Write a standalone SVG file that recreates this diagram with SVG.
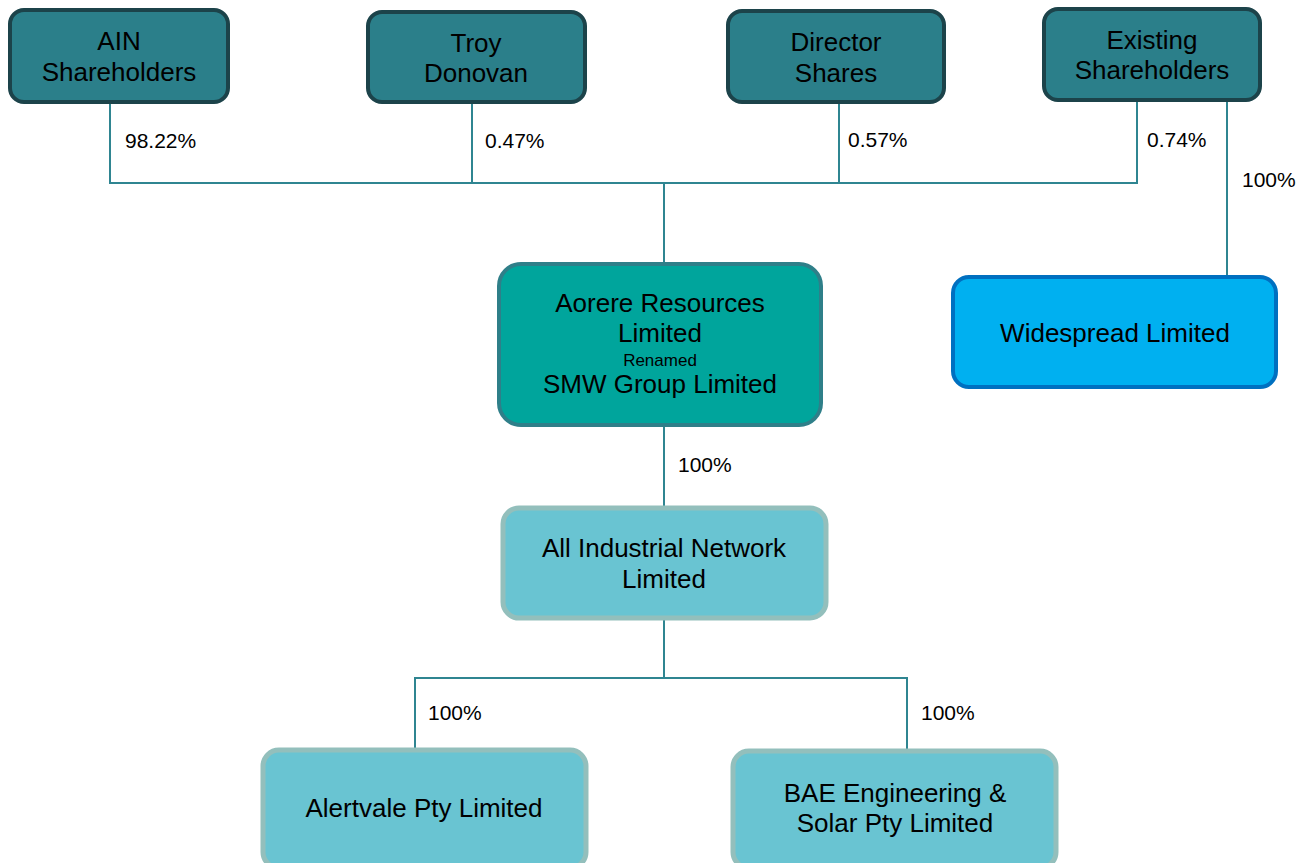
<svg xmlns="http://www.w3.org/2000/svg" width="1305" height="863" viewBox="0 0 1305 863">
<style>
text{font-family:"Liberation Sans",Arial,sans-serif;fill:#000;text-anchor:middle}
.t{font-size:26px}
.p{font-size:21px;text-anchor:start}
.dark{fill:#2b7f8a;stroke:#1c434a;stroke-width:4}
.aor{fill:#00a59c;stroke:#2f7f89;stroke-width:4}
.wide{fill:#00b0f0;stroke:#0070c0;stroke-width:4}
.light{fill:#69c4d2;stroke:#93bfbc;stroke-width:5}
.c{fill:none;stroke:#2f8591;stroke-width:2}
</style>
<rect width="1305" height="863" fill="#fff"/>
<g id="connectors">
<polyline class="c" points="110,104 110,183 1137,183 1137,102"/>
<line class="c" x1="472" y1="104" x2="472" y2="183"/>
<line class="c" x1="839" y1="104" x2="839" y2="183"/>
<line class="c" x1="664" y1="183" x2="664" y2="262"/>
<line class="c" x1="1227" y1="102" x2="1227" y2="275"/>
<line class="c" x1="664" y1="427" x2="664" y2="506"/>
<line class="c" x1="664" y1="620" x2="664" y2="678"/>
<polyline class="c" points="415,748 415,678 907,678 907,749"/>
<text class="p" x="125" y="148">98.22%</text>
<text class="p" x="485" y="148">0.47%</text>
<text class="p" x="848" y="147">0.57%</text>
<text class="p" x="1147" y="147">0.74%</text>
<text class="p" x="1242" y="187">100%</text>
<text class="p" x="678" y="472">100%</text>
<text class="p" x="428" y="720">100%</text>
<text class="p" x="921" y="720">100%</text>
</g>
<g id="ain">
<rect class="dark" x="10" y="10" width="218" height="92" rx="14"/>
<text class="t" x="119" y="50">AIN</text>
<text class="t" x="119" y="81">Shareholders</text>
</g>
<g id="troy">
<rect class="dark" x="368" y="12" width="217" height="90" rx="14"/>
<text class="t" x="476" y="52">Troy</text>
<text class="t" x="476" y="82">Donovan</text>
</g>
<g id="director">
<rect class="dark" x="728" y="11" width="216" height="91" rx="14"/>
<text class="t" x="836" y="51">Director</text>
<text class="t" x="836" y="82">Shares</text>
</g>
<g id="existing">
<rect class="dark" x="1044" y="9" width="216" height="91" rx="14"/>
<text class="t" x="1152" y="49">Existing</text>
<text class="t" x="1152" y="79">Shareholders</text>
</g>
<g id="aorere">
<rect class="aor" x="499" y="264" width="322" height="161" rx="22"/>
<text class="t" x="660" y="312">Aorere Resources</text>
<text class="t" x="660" y="342">Limited</text>
<text x="660" y="366" font-size="17">Renamed</text>
<text class="t" x="660" y="393">SMW Group Limited</text>
</g>
<g id="widespread">
<rect class="wide" x="953" y="277" width="323" height="110" rx="16"/>
<text class="t" x="1115" y="342">Widespread Limited</text>
</g>
<g id="ainetwork">
<rect class="light" x="503" y="508" width="323" height="110" rx="16"/>
<text class="t" x="664" y="557">All Industrial Network</text>
<text class="t" x="664" y="588">Limited</text>
</g>
<g id="alertvale">
<rect class="light" x="263" y="750" width="323" height="118" rx="16"/>
<text class="t" x="424" y="817">Alertvale Pty Limited</text>
</g>
<g id="bae">
<rect class="light" x="733" y="751" width="323" height="117" rx="16"/>
<text class="t" x="895" y="802">BAE Engineering &amp;</text>
<text class="t" x="895" y="832">Solar Pty Limited</text>
</g>
</svg>
